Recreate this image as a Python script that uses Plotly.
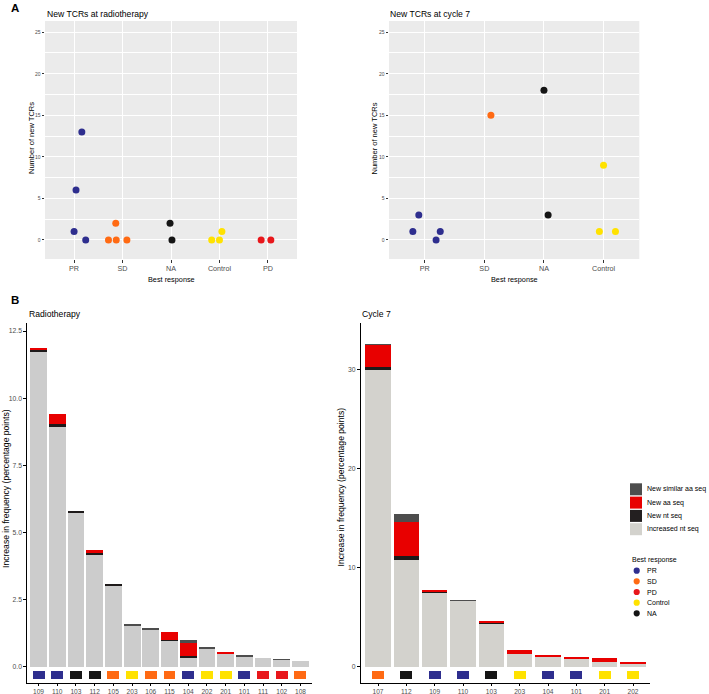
import plotly.graph_objects as go

W, H = 709, 694

# ---------------- data ----------------
response_names = ["PR", "SD", "PD", "Control", "NA"]
response_colors = {"PR": "#2E2E8E", "SD": "#FF6A13", "PD": "#E8171B",
                   "Control": "#FFE200", "NA": "#151515"}

# Panel A left: new TCRs at radiotherapy
rt_cats = ["PR", "SD", "NA", "Control", "PD"]
rt_group = ["PR", "PR", "PR", "PR", "SD", "SD", "SD", "SD", "NA", "NA",
            "Control", "Control", "Control", "PD", "PD"]
rt_pos = [1.00, 1.04, 1.16, 1.24, 1.71, 1.87, 1.86, 2.09, 2.98, 3.02,
          3.84, 4.00, 4.05, 4.86, 5.06]          # jittered category position
rt_new = [1, 6, 13, 0, 0, 0, 2, 0, 2, 0, 0, 0, 1, 0, 0]

# Panel A right: new TCRs at cycle 7
c7_cats = ["PR", "SD", "NA", "Control"]
c7_group = ["PR", "PR", "PR", "PR", "SD", "NA", "NA", "Control", "Control", "Control"]
c7_pos = [0.80, 0.90, 1.19, 1.26, 2.11, 3.00, 3.07, 3.93, 4.00, 4.20]
c7_new = [1, 3, 0, 1, 15, 18, 3, 1, 9, 1]

# Panel B: increase in frequency (percentage points)
seq_names = ["Increased nt seq", "New nt seq", "New aa seq", "New similar aa seq"]

rt_patients = ["109", "110", "103", "112", "105", "203", "106", "115", "104",
               "202", "201", "101", "111", "102", "108"]
rt_response = ["PR", "PR", "NA", "NA", "SD", "Control", "SD", "SD", "PR",
               "Control", "Control", "PR", "PD", "PD", "SD"]
rt_increased = [11.72, 8.93, 5.73, 4.16, 3.04, 1.53, 1.40, 0.97, 0.33, 0.68, 0.50, 0.37, 0.31, 0.25, 0.20]
rt_new_nt = [0.08, 0.10, 0.03, 0.06, 0.04, 0, 0, 0.04, 0.06, 0, 0, 0, 0, 0, 0]
rt_new_aa = [0.04, 0.37, 0, 0.12, 0, 0, 0, 0.27, 0.49, 0, 0.05, 0, 0, 0, 0]
rt_new_sim = [0, 0, 0, 0, 0, 0.04, 0.05, 0, 0.13, 0.04, 0, 0.03, 0, 0.03, 0]

c7_patients = ["107", "112", "109", "110", "103", "203", "104", "101", "201", "202"]
c7_response = ["SD", "NA", "PR", "PR", "NA", "Control", "PR", "PR", "Control", "Control"]
c7_increased = [29.90, 10.75, 7.49, 6.65, 4.33, 1.28, 1.01, 0.84, 0.44, 0.30]
c7_new_nt = [0.27, 0.44, 0.12, 0, 0.10, 0, 0, 0, 0, 0]
c7_new_aa = [2.29, 3.43, 0.12, 0, 0.10, 0.43, 0.10, 0.05, 0.43, 0.15]
c7_new_sim = [0.07, 0.77, 0, 0.07, 0, 0, 0, 0, 0, 0]

# ---------------- styling ----------------
FONT = "Liberation Sans, Arial, sans-serif"
TICK_COL = "#4D4D4D"
seq_colors_rt = ["#CCCCCC", "#1E1A1A", "#E80000", "#4D4D4D"]
seq_colors_c7 = ["#D3D2CD", "#1E1A1A", "#E80000", "#4D4D4D"]
legend_fill_colors = ["#D3D2CD", "#231F20", "#E80000", "#4D4D4D"]


def fx(x):
    return x / W


def fy(y):
    return 1 - y / H


fig = go.Figure()

# ---- Panel A scatter ----
fig.add_trace(go.Scatter(
    x=rt_pos, y=rt_new, mode="markers", xaxis="x", yaxis="y",
    marker=dict(size=7, color=[response_colors[g] for g in rt_group], line=dict(width=0)),
    showlegend=False, hoverinfo="skip"))
fig.add_trace(go.Scatter(
    x=c7_pos, y=c7_new, mode="markers", xaxis="x2", yaxis="y2",
    marker=dict(size=7, color=[response_colors[g] for g in c7_group], line=dict(width=0)),
    showlegend=False, hoverinfo="skip"))

# ---- Panel B bars ----
for name, vals, col in zip(seq_names, [rt_increased, rt_new_nt, rt_new_aa, rt_new_sim], seq_colors_rt):
    fig.add_trace(go.Bar(x=rt_patients, y=vals, name=name, xaxis="x3", yaxis="y3",
                         marker=dict(color=col, line=dict(width=0)), showlegend=False,
                         hoverinfo="skip"))
for name, vals, col in zip(seq_names, [c7_increased, c7_new_nt, c7_new_aa, c7_new_sim], seq_colors_c7):
    fig.add_trace(go.Bar(x=c7_patients, y=vals, name=name, xaxis="x4", yaxis="y4",
                         marker=dict(color=col, line=dict(width=0)), showlegend=False,
                         hoverinfo="skip"))

# response tiles under bars
TILE_PX_H = 8.5
TILE_PX_C = 8.3  # px below zero
rt_ppu = 360 / (12.8 + 0.61)
c7_ppu = 360 / (34.65 + 1.64)
fig.add_trace(go.Bar(x=rt_patients, y=[TILE_PX_H / rt_ppu] * len(rt_patients),
                     base=-(TILE_PX_C + TILE_PX_H / 2) / rt_ppu, width=0.64,
                     xaxis="x3", yaxis="y3",
                     marker=dict(color=[response_colors[r] for r in rt_response], line=dict(width=0)),
                     showlegend=False, hoverinfo="skip"))
fig.add_trace(go.Bar(x=c7_patients, y=[TILE_PX_H / c7_ppu] * len(c7_patients),
                     base=-(TILE_PX_C + TILE_PX_H / 2) / c7_ppu, width=0.42,
                     xaxis="x4", yaxis="y4",
                     marker=dict(color=[response_colors[r] for r in c7_response], line=dict(width=0)),
                     showlegend=False, hoverinfo="skip"))

# ---------------- axes ----------------
A_y = [fy(259), fy(21)]
B_y = [fy(683), fy(323)]


def a_xaxis(dom, cats, anchor):
    return dict(domain=dom, anchor=anchor, range=[0.4, len(cats) + 0.6],
                tickmode="array", tickvals=list(range(1, len(cats) + 1)), ticktext=cats,
                showgrid=True, gridcolor="white", gridwidth=1.1, zeroline=False,
                showline=False, ticks="outside", ticklen=2.5, tickwidth=1, tickcolor="#333333",
                tickfont=dict(size=7.2, color=TICK_COL, family=FONT))


def a_yaxis(dom, anchor):
    return dict(domain=dom, anchor=anchor, range=[-2.3, 26.35], tick0=0, dtick=5,
                showgrid=True, gridcolor="white", gridwidth=1.1, zeroline=False,
                minor=dict(dtick=2.5, showgrid=True, gridcolor="white", gridwidth=0.5),
                showline=False, ticks="outside", ticklen=2.5, tickwidth=1, tickcolor="#333333",
                tickfont=dict(size=5, color=TICK_COL, family=FONT))


def b_xaxis(dom, cats, anchor):
    return dict(domain=dom, anchor=anchor, type="category", categoryorder="array",
                categoryarray=cats, range=[-0.6, len(cats) - 0.4],
                showgrid=False, zeroline=False, showline=True, linecolor="black", linewidth=1,
                ticks="outside", ticklen=2, tickwidth=1, tickcolor="black",
                tickfont=dict(size=6.6, color=TICK_COL, family=FONT))


def b_yaxis(dom, anchor, rng, dtick, fmt):
    return dict(domain=dom, anchor=anchor, range=rng, tick0=0, dtick=dtick, tickformat=fmt,
                showgrid=False, zeroline=False, showline=True, linecolor="black", linewidth=1,
                ticks="outside", ticklen=3, tickwidth=1, tickcolor="black",
                tickfont=dict(size=6.8, color=TICK_COL, family=FONT))


annotations = []
shapes = []

# panel backgrounds for A
for xr, yr in [("x", "y"), ("x2", "y2")]:
    shapes.append(dict(type="rect", xref=f"{xr} domain", yref=f"{yr} domain",
                       x0=0, x1=1, y0=0, y1=1, fillcolor="#EBEBEB", line=dict(width=0),
                       layer="below"))


def txt(x, y, s, size, xanchor="center", yanchor="middle", angle=0, color="black"):
    annotations.append(dict(x=fx(x), y=fy(y), xref="paper", yref="paper", text=s,
                            showarrow=False, xanchor=xanchor, yanchor=yanchor,
                            textangle=angle, borderpad=0,
                            font=dict(size=size, color=color, family=FONT)))


# panel letters and titles
txt(10, 8, "<b>A</b>", 11.5, xanchor="left")
txt(10, 300, "<b>B</b>", 11.5, xanchor="left")
txt(45.5, 14, "New TCRs at radiotherapy", 8.6, xanchor="left")
txt(388.5, 14, "New TCRs at cycle 7", 8.6, xanchor="left")
txt(27.5, 313.5, "Radiotherapy", 8.6, xanchor="left")
txt(360.5, 313.5, "Cycle 7", 8.6, xanchor="left")

# axis titles
txt(31.5, 138.5, "Number of new TCRs", 7.5, angle=-90)
txt(374, 138.5, "Number of new TCRs", 7.5, angle=-90)
txt(171, 279, "Best response", 7.3)
txt(514.5, 279, "Best response", 7.3)
txt(5.5, 488.5, "Increase in frequency (percentage points)", 8.6, angle=-90)
txt(340, 487.5, "Increase in frequency (percentage points)", 8.6, angle=-90)

# legend: sequence type (top to bottom reversed stacking order)
leg_x0, leg_top, leg_step, key = 630, 483.3, 13.3, 12
for i, (name, col) in enumerate(zip(seq_names[::-1], legend_fill_colors[::-1])):
    y0 = leg_top + i * leg_step
    shapes.append(dict(type="rect", xref="paper", yref="paper",
                       x0=fx(leg_x0), x1=fx(leg_x0 + key), y0=fy(y0 + key), y1=fy(y0),
                       fillcolor=col, line=dict(width=0)))
    txt(645.5, y0 + key / 2, name, 7.0, xanchor="left")

# legend: best response
txt(630.5, 559.5, "Best response", 7.0, xanchor="left")
r = 3.1
for i, name in enumerate(response_names):
    cy = 570.7 + i * 10.65
    shapes.append(dict(type="circle", xref="paper", yref="paper",
                       x0=fx(636.7 - r), x1=fx(636.7 + r), y0=fy(cy + r), y1=fy(cy - r),
                       fillcolor=response_colors[name], line=dict(width=0)))
    txt(645.5, cy, name, 7.0, xanchor="left")

fig.update_layout(
    width=W, height=H, margin=dict(l=0, r=0, t=0, b=0),
    paper_bgcolor="white", plot_bgcolor="white",
    font=dict(family=FONT, color="black"),
    barmode="stack", bargap=0.1, showlegend=False,
    xaxis=a_xaxis([fx(45), fx(297)], rt_cats, "y"),
    yaxis=a_yaxis(A_y, "x"),
    xaxis2=a_xaxis([fx(389), fx(639.3)], c7_cats, "y2"),
    yaxis2=a_yaxis(A_y, "x2"),
    xaxis3=b_xaxis([fx(27.3), fx(311.7)], rt_patients, "y3"),
    yaxis3=b_yaxis(B_y, "x3", [-0.61, 12.8], 2.5, ".1f"),
    xaxis4=b_xaxis([fx(361), fx(650)], c7_patients, "y4"),
    yaxis4=b_yaxis(B_y, "x4", [-1.64, 34.65], 10, "d"),
    annotations=annotations, shapes=shapes,
)

fig.write_html("out.html", config={"displayModeBar": False},
               post_script="document.body.style.margin='0px';document.body.style.overflow='hidden';")
